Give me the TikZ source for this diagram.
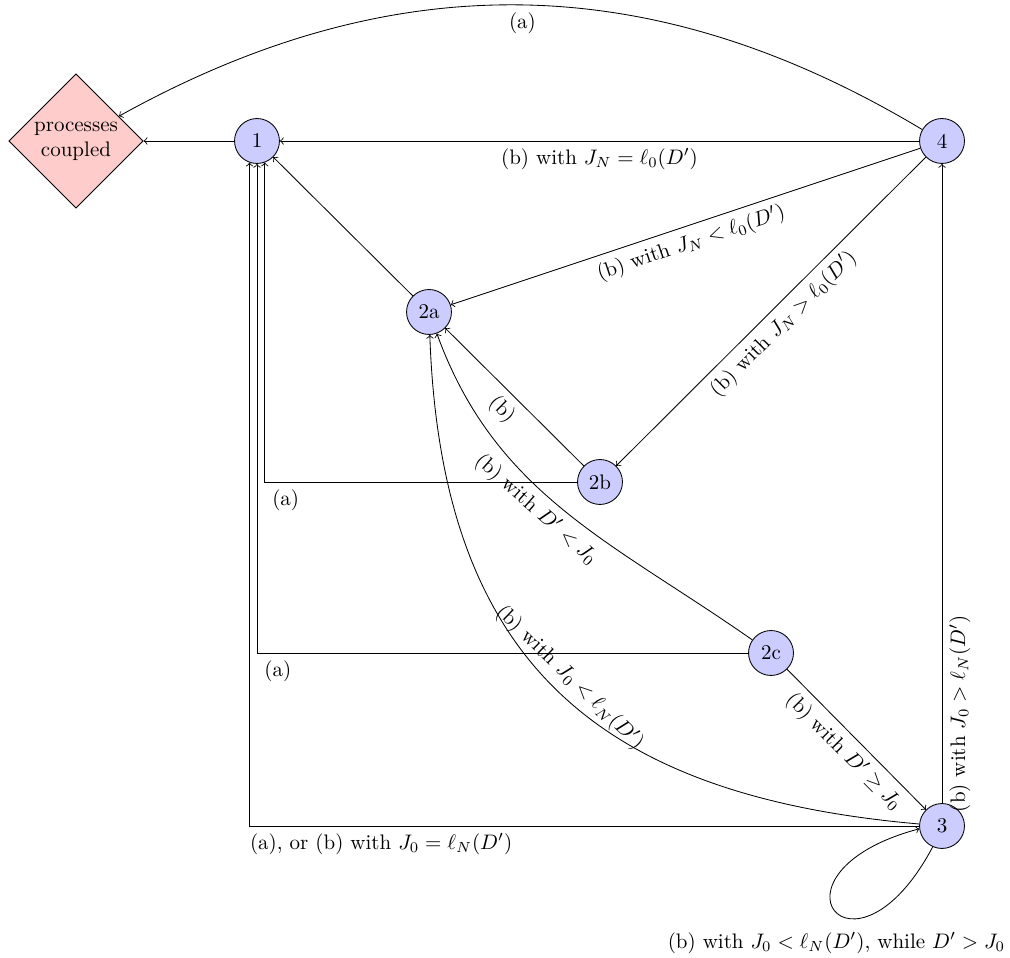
\documentclass[tikz,border=0pt]{standalone}
\usetikzlibrary{shapes.geometric}
\begin{document}
\begin{tikzpicture}[x=0.4762pt,y=0.4762pt,
  state/.style={circle,draw,fill=blue!20,minimum size=21.4pt,inner sep=0pt},
  goal/.style={diamond,draw,fill=red!20,minimum width=64pt,minimum height=64pt,inner sep=1pt,align=center,aspect=1},
  conn/.style={->}]
\useasboundingbox (0,0) rectangle (1010,958);
\node[goal] (D) at (76,817) {processes\\coupled};
\node[state] (n1) at (257,817) {1};
\node[state] (n4) at (942,817) {4};
\node[state] (n2a) at (429,646) {2a};
\node[state] (n2b) at (600,476) {2b};
\node[state] (n2c) at (771,305) {2c};
\node[state] (n3) at (942,132) {3};

\draw[conn] (n4) to[bend right=30] node[midway,below]{(a)} (D);
\draw[conn] (n1) -- (D);
\draw[conn] (n4) -- node[below]{(b) with $J_N=\ell_0(D')$} (n1);
\draw[conn] (n4) -- node[sloped,below]{(b) with $J_N<\ell_0(D')$} (n2a);
\draw[conn] (n4) -- node[sloped,below]{(b) with $J_N>\ell_0(D')$} (n2b);
\draw[conn] (n2a) -- (n1);
\draw[conn] (n2b) -- node[sloped,below]{(b)} (n2a);
\draw[conn] (n2b) -| node[pos=0.5,below right]{(a)} (n1.-70.5);
\draw[conn] (n2c) -| node[pos=0.5,below right]{(a)} (n1.south);
\draw[conn] (n3) -| node[pos=0.5,below right,xshift=-3.3pt]{(a), or (b) with $J_0=\ell_N(D')$} (n1.-109.5);
\draw[conn] (n3) -- node[sloped,below,pos=0.14]{(b) with $J_0>\ell_N(D')$} (n4);
\draw[conn] (n2c) -- node[sloped,below]{(b) with $D'\geq J_0$} (n3);
\draw[conn] (n2c) to[out=145,in=-70,looseness=1] node[sloped,below,pos=0.55]{(b) with $D'<J_0$} (n2a);
\draw[conn] (n3) to[out=175,in=-88,looseness=1.2] node[sloped,above]{(b) with $J_0<\ell_N(D')$} (n2a);
\draw[conn] (n3.-114) .. controls +(-118:170) and +(195:170) .. (n3.187)
  node[pos=0.35,below,xshift=-8.5pt,yshift=-3pt]{(b) with $J_0<\ell_N(D')$, while $D'>J_0$};
\end{tikzpicture}
\end{document}
